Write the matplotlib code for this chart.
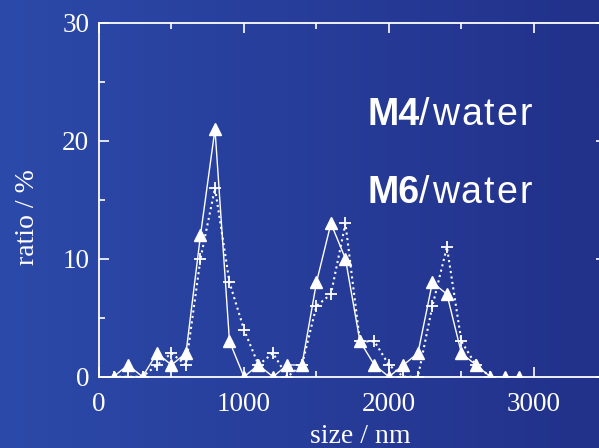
import numpy as np
import matplotlib
matplotlib.use("Agg")
import matplotlib.pyplot as plt
from matplotlib.ticker import MultipleLocator

# particle size distribution, ratio (%) per 100 nm bin
size_m4 = [100, 200, 300, 400, 500, 600, 700, 800, 900, 1000,
           1100, 1200, 1300, 1400, 1500, 1600, 1700, 1800, 1900, 2000,
           2100, 2200, 2300, 2400, 2500, 2600, 2700, 2800, 2900]
ratio_m4 = [0, 1, 0, 2, 1, 2, 12, 21, 3, 0,
            1, 0, 1, 1, 8, 13, 10, 3, 1, 0,
            1, 2, 8, 7, 2, 1, 0, 0, 0]

size_m6 = [100, 200, 300, 400, 500, 600, 700, 800, 900, 1000,
           1100, 1200, 1300, 1400, 1500, 1600, 1700, 1800, 1900, 2000,
           2100, 2200, 2300, 2400, 2500, 2600, 2700]
ratio_m6 = [0, 0, 0, 1, 2, 1, 10, 16, 8, 4,
            1, 2, 0, 1, 6, 7, 13, 3, 3, 1,
            0, 0, 6, 11, 3, 1, 0]

W, H = 599, 448
fig = plt.figure(figsize=(W / 100, H / 100), dpi=100)

# blue backdrop, a little lighter on the left
bg = fig.add_axes([0, 0, 1, 1], zorder=-10)
bg.axis("off")
left = np.array([0x2c, 0x4a, 0xa9]) / 255
right = np.array([0x22, 0x31, 0x8a]) / 255
t = np.linspace(0, 1, 256)[None, :, None]
grad = left[None, None, :] * (1 - t) + right[None, None, :] * t
bg.imshow(grad, aspect="auto", extent=[0, 1, 0, 1])

ax = fig.add_axes([0.1653, 0.159, 0.847, 0.790])
ax.patch.set_alpha(0)

ax.plot(size_m4, ratio_m4, "-", color="white", lw=1.0,
        marker="^", ms=8.5, mfc="white", mec="white", zorder=3)
ax.plot(size_m6, ratio_m6, ":", color="white", lw=1.5,
        marker="+", ms=9, mew=1.3, mec="white", zorder=2)

ax.set_xlim(0, 3500)
ax.set_ylim(0, 30)
ax.xaxis.set_major_locator(MultipleLocator(1000))
ax.xaxis.set_minor_locator(MultipleLocator(500))
ax.yaxis.set_major_locator(MultipleLocator(10))
ax.yaxis.set_minor_locator(MultipleLocator(5))

for s in ax.spines.values():
    s.set_color("white")
    s.set_linewidth(1.3)
ax.tick_params(which="both", direction="in", top=True, right=True,
               colors="white", width=1.2)
ax.tick_params(which="major", length=7, labelsize=19.5)
ax.tick_params(axis="x", which="major", pad=11)
ax.tick_params(axis="y", which="major", pad=7)
ax.tick_params(which="minor", length=4)
for lab in ax.get_xticklabels() + ax.get_yticklabels():
    lab.set_family("Liberation Serif")

serif = dict(color="white", fontsize=20, family="Liberation Serif")
fig.text(360 / W, 1 - 443 / H, "size / nm", ha="center", va="baseline",
         **serif)
fig.text(27 / W, 1 - 217 / H, "ratio / %", ha="center", va="center",
         rotation=90, **serif)

# sample labels: bold sample name, then "/water" set with a little tracking
sans = dict(color="white", fontsize=27, family="Liberation Sans")
for y, name in [(125, "M4"), (203, "M6")]:
    prev = fig.text(367 / W, 1 - y / H, name, weight="bold",
                    va="baseline", **sans)
    gap = 0
    for ch in "/water":
        prev = ax.annotate(ch, xy=(1, 0), xycoords=prev,
                           xytext=(gap, 0), textcoords="offset points",
                           va="bottom", ha="left", annotation_clip=False,
                           **sans)
        gap = 1.5

fig.savefig("out.png", dpi=100)
